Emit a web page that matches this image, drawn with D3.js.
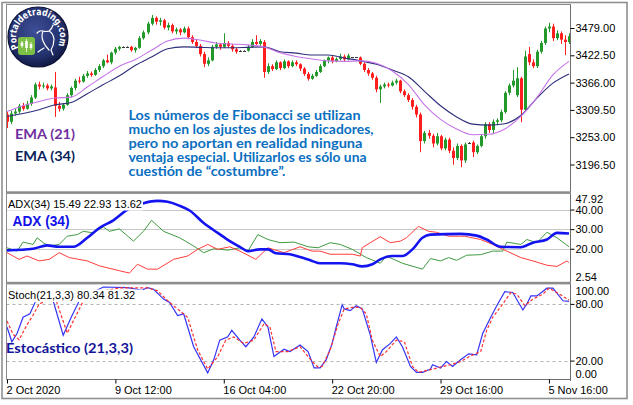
<!DOCTYPE html>
<html><head><meta charset="utf-8">
<script src="https://cdn.jsdelivr.net/npm/d3@7"></script>
<style>html,body{margin:0;padding:0;background:#fff;} svg{display:block}</style>
</head><body>
<svg id="c" width="633" height="405"></svg>
<script>
// ---------- DATA ----------
const openP = [3300,3285,3302,3306,3318,3312,3322,3335,3362,3358,
3360,3354,3356,3318,3312,3320,3340,3355,3370,3368,
3380,3385,3382,3392,3400,3412,3408,3428,3436,3440,
3440,3440,3433,3438,3458,3470,3488,3500,3492,3495,
3480,3485,3472,3476,3470,3478,3460,3450,3442,3425,
3405,3412,3440,3445,3440,3448,3442,3435,3432,3432,
3432,3440,3450,3446,3450,3388,3400,3394,3408,3396,
3410,3400,3408,3404,3395,3384,3374,3380,3388,3400,
3412,3418,3410,3415,3420,3414,3418,3418,3418,3405,
3392,3385,3376,3352,3358,3362,3360,3366,3370,3348,
3340,3330,3316,3300,3245,3262,3256,3240,3255,3230,
3248,3225,3210,3235,3205,3242,3242,3222,3235,3255,
3280,3268,3285,3288,3305,3345,3360,3340,3375,3310,
3425,3408,3400,3430,3448,3478,3482,3458,3468,3455,
3450];
const highP = [3305,3308,3312,3322,3324,3328,3340,3366,3368,3366,
3364,3362,3388,3326,3324,3344,3358,3374,3378,3384,
3390,3389,3396,3404,3415,3424,3430,3440,3442,3441,
3441,3442,3440,3462,3474,3492,3506,3503,3500,3498,
3490,3488,3480,3479,3482,3482,3464,3456,3446,3430,
3418,3444,3450,3448,3468,3452,3446,3438,3433,3433,
3444,3456,3464,3456,3454,3406,3404,3412,3410,3414,
3412,3412,3412,3406,3398,3388,3384,3392,3404,3414,
3420,3421,3418,3426,3424,3426,3419,3419,3420,3408,
3396,3388,3380,3362,3366,3366,3370,3374,3372,3352,
3344,3334,3320,3304,3266,3268,3260,3262,3258,3252,
3252,3232,3240,3238,3242,3243,3246,3238,3260,3284,
3284,3290,3292,3310,3348,3364,3392,3398,3378,3432,
3440,3414,3434,3452,3482,3490,3488,3474,3472,3464,
3468];
const lowP = [3272,3280,3298,3302,3308,3310,3318,3332,3352,3354,
3350,3350,3295,3306,3308,3318,3336,3350,3364,3366,
3376,3378,3380,3388,3396,3406,3404,3424,3432,3439,
3439,3430,3428,3436,3455,3466,3484,3486,3484,3476,
3474,3468,3466,3464,3468,3456,3446,3438,3420,3398,
3400,3410,3436,3434,3438,3438,3430,3426,3431,3431,
3430,3438,3444,3442,3376,3384,3390,3392,3392,3394,
3396,3398,3400,3390,3380,3370,3372,3378,3386,3398,
3406,3406,3408,3412,3410,3412,3417,3417,3402,3388,
3380,3372,3346,3324,3354,3356,3358,3362,3344,3336,
3326,3310,3294,3222,3240,3250,3232,3236,3226,3226,
3220,3196,3206,3191,3200,3241,3212,3218,3232,3250,
3262,3260,3278,3284,3302,3340,3356,3336,3284,3306,
3402,3396,3396,3426,3444,3470,3452,3454,3446,3423,
3446];
const closeP = [3285,3302,3306,3318,3312,3322,3335,3362,3358,3360,
3354,3358,3318,3312,3320,3340,3355,3370,3368,3380,
3385,3382,3392,3400,3412,3408,3428,3436,3440,3440,
3440,3433,3438,3458,3470,3488,3500,3492,3495,3480,
3485,3472,3476,3470,3478,3460,3450,3442,3425,3405,
3412,3440,3445,3440,3448,3442,3435,3430,3432,3432,
3440,3450,3446,3452,3388,3400,3394,3408,3396,3410,
3400,3408,3404,3395,3384,3374,3380,3388,3400,3412,
3418,3410,3415,3420,3414,3422,3418,3418,3405,3392,
3385,3376,3352,3358,3362,3360,3366,3370,3348,3340,
3330,3316,3300,3245,3262,3256,3240,3255,3230,3248,
3225,3210,3235,3205,3238,3242,3222,3235,3255,3280,
3268,3285,3288,3305,3345,3360,3370,3375,3310,3420,
3408,3400,3430,3448,3478,3482,3458,3468,3455,3450,
3462];

const emaIdx = [0,4,8,12,16,20,24,28,32,36,40,44,48,52,56,60,64,68,72,76,80,84,88,92,96,100,104,108,112,116,120,124,128,132,136,140];
const ema21 = [3306,3318,3327,3334,3336,3357,3379,3400,3414,3433,3452,3458,3454,3448,3446,3444,3440,3428,3420,3415,3411,3410,3411,3406,3390,3362,3320,3290,3270,3258,3259,3270,3296,3335,3382,3410];
const ema34 = [3296,3302,3310,3320,3325,3343,3362,3380,3402,3419,3436,3440,3439,3438,3438,3439,3440,3430,3427,3423,3423,3417,3411,3404,3392,3378,3348,3318,3295,3280,3278,3281,3298,3334,3365,3384];

const adxBar = [0,6.5,10,13,16.5,20,23,26.5,30,34,37.5,40,43,45.5,49,52.5,55.5,58,60,63,65,67,70.5,73,76,78,83,86,88.5,91,93,96,98.5,101,103.5,105.5,113,117,119.5,123,128,131,134.5,137,140];
const adxVal = [19.2,20.0,21.7,21.0,21.0,25.6,30.6,34.5,39.9,43.2,44.4,44.0,41.9,39.5,33.1,28.1,23.9,21.0,18.8,19.7,19.7,17.7,17.2,15.8,13.8,12.6,12.6,12.1,11.0,12.1,14.6,16.3,16.3,19.7,25.6,27.2,27.6,26.7,24.7,21.0,20.8,23.1,24.7,28.1,27.8];
const plusBar = [0,2.5,4,6.5,7.5,9,10.5,13,15,17.5,19,21.5,24,25.5,28,31.5,34,36,39,43,46.5,49,51.5,55,58,60,62.5,65,68,71.5,75,77.5,80.5,83,86,89.5,93,94.5,98.5,103.5,105.5,108,110,112,114.5,118,121,123.5,124.5,128,129.5,132,134.5,137,140];
const plusVal = [20.5,18.8,23.4,22.2,25.6,23.1,21.4,22.2,26.4,27.2,28.9,28.1,31.1,28.9,30.1,23.9,28.9,34.5,28.9,25.6,21.4,18.0,20.0,19.3,20.5,18.8,27.2,24.7,23.1,23.4,21.0,20.5,23.1,22.2,19.7,15.5,12.6,16.3,12.6,9.6,15.0,13.8,15.5,14.1,16.7,17.0,18.8,18.8,23.4,22.2,24.7,23.1,28.4,25.6,21.0];
const minusBar = [0,3,5,8,10.5,13,15.5,20,23,28,30.5,32.5,35,37.5,41.5,45,47.5,50,52.5,55.5,58,62,65,69,73,76,78,80.5,83,86,88,88.5,90.5,93,95.5,98,99.5,102.5,105,107,110,114,118,121,124.5,128,131,134.5,137,139.5,140];
const minusVal = [18.0,14.6,16.3,13.8,14.6,18.0,15.5,13.8,11.3,8.8,7.6,12.1,9.6,9.6,14.6,16.3,19.7,22.2,19.7,21.0,18.8,14.6,20.5,18.0,21.0,18.8,18.8,17.2,17.2,17.2,16.3,20.5,23.1,26.1,23.1,23.9,25.6,31.4,28.9,28.4,26.4,26.4,24.7,22.2,18.8,15.5,13.8,11.6,11.0,13.8,12.9];

const stochBar = [0,1.2,2.5,4,5.7,7,7.5,9.5,11.5,14,16,18,20.5,24,30,33.5,35,36.5,39,40.5,42.5,44,46.5,50,51.5,53,55,56,58,59.5,61.5,63.5,65,66.5,69,70.5,73,75,76.5,78,79.5,81,82,83.5,84,85.5,87,88.5,90.5,92,93.5,95.5,97,98.5,100.5,102,103.5,105.5,106,108,109.5,111,113,115,117,118.5,120.5,122,124,126,128.5,129.5,130.5,132,134.5,136,138.5,140];
const stochVal = [55.5,39.9,48.6,65.9,69.5,81.6,87.5,89.5,83.3,46.9,65.9,83.3,90.5,97.9,97.2,94.5,97.2,95.5,85.1,81.6,67.7,69.5,34.7,7.0,20.8,41.7,45.1,52.1,41.7,34.7,45.1,64.2,55.5,24.3,32.0,29.5,36.5,29.5,12.2,12.2,20.8,38.2,55.5,79.2,74.7,72.9,78.1,74.7,46.9,18.0,31.3,38.2,45.1,34.7,13.9,7.6,7.6,11.1,15.6,12.2,19.1,13.9,20.8,27.1,26.0,48.6,65.9,78.1,93.0,92.0,73.6,79.9,88.5,88.5,96.6,96.6,83.3,82.6];
const signalBar = [0,1.5,3,5,6.5,8,12,15,19,22,28,35,37.5,40.5,43.5,45,47.5,50,52.5,54.5,56.5,59,61.5,64,65.5,67,70,73,76,77.5,78.5,80.5,82.5,84,86,88,89.5,91,93,94.5,97,99,101,102.5,105.5,108,110.5,113,115.5,118,119.5,121,123.5,125.5,127,129,131,133.5,135,137,140];
const signalVal = [62,48,42,58,68,80,86.8,49,83,92,97,97,93.8,81.6,71.1,65.9,31.3,11.1,24.3,41.7,45.1,38.2,41.7,59.0,55.5,29.5,29.5,34.7,19.1,13.2,13.9,31.3,59.0,74.7,76.3,76.3,69.5,41.7,24.3,29.5,41.7,39.9,13.9,7.6,10.4,13.2,15.6,19.1,25.0,29.5,52.1,65.9,79.9,92.0,90.3,78.1,85.1,90.3,96.6,92.0,84.0];

const timeLabels = ["2 Oct 2020","9 Oct 12:00","16 Oct 04:00","22 Oct 20:00","29 Oct 16:00","5 Nov 16:00"];
const timeBars = [0,27,54,81,108,135];
const priceTicks = [3479, 3422.5, 3366, 3309.5, 3253, 3196.5];
const adxTicks = [40, 30, 20];
const adxRange = [2.54, 47.92];
const stochTicks = [80, 20];
const stochRange = [0, 100];
const adxTitle = "ADX(34) 15.49 22.93 13.62";
const stochTitle = "Stoch(21,3,3) 80.34 81.32";
const noteLines = ["Los números de Fibonacci se utilizan","mucho en los ajustes de los indicadores,","pero no aportan en realidad ninguna","ventaja especial. Utilizarlos es sólo una","cuestión de “costumbre”."];

// ---------- LAYOUT ----------
const L = 6.5, R = 570.5;
const main = {t:5, b:191.5};
const adxP = {t:194, b:282};
const stP = {t:284.5, b:379.5};
const svg = d3.select('#c');
svg.append('rect').attr('width',633).attr('height',405).attr('fill','#fff');

const x = d3.scaleLinear().domain([0,140]).range([7,569]);
const yP = d3.scaleLinear().domain([3139.6,3526.6]).range([192,5]);
const yA = d3.scaleLinear().domain(adxRange).range([283,194]);
const yS = d3.scaleLinear().domain(stochRange).range([379.5,285]);

const defs = svg.append('defs');
function clip(id, t, b){
  defs.append('clipPath').attr('id',id).append('rect').attr('x',L).attr('y',t).attr('width',R-L).attr('height',b-t);
}
clip('cm', main.t, main.b); clip('ca', adxP.t, adxP.b); clip('cs', stP.t, stP.b);

// outer frame
svg.append('rect').attr('x',2).attr('y',2.5).attr('width',625).attr('height',396).attr('fill','none').attr('stroke','#8f8f8f').attr('stroke-width',1.6);

// ---------- MAIN PANEL ----------
const gm = svg.append('g').attr('clip-path','url(#cm)');
const idx = d3.range(closeP.length);
const bull = '#22992a', bear = '#ff1e1e', dojiC = '#3a3a3a';
const cg = gm.append('g');
cg.selectAll('g.c').data(idx).join('g').attr('class','c').each(function(i){
  const g = d3.select(this);
  const cx = Math.round(x(i));
  const o = openP[i], c = closeP[i];
  const col = c > o ? bull : (c < o ? bear : dojiC);
  g.append('rect').attr('x',cx).attr('y',yP(highP[i])).attr('width',1).attr('height',Math.max(1,yP(lowP[i])-yP(highP[i]))).attr('fill',col);
  if (o === c) {
    g.append('rect').attr('x',cx-1).attr('y',Math.round(yP(o))).attr('width',3).attr('height',1).attr('fill',col);
  } else {
    const top = yP(Math.max(o,c)), bot = yP(Math.min(o,c));
    g.append('rect').attr('x',cx-1).attr('y',top).attr('width',3).attr('height',Math.max(1,bot-top)).attr('fill',col);
  }
});
const lineE = d3.line().x((d,k)=>x(emaIdx[k])).curve(d3.curveMonotoneX);
gm.append('path').attr('d',lineE.y(d=>yP(d))(ema34)).attr('fill','none').attr('stroke','#2e2e7c').attr('stroke-width',1.1);
gm.append('path').attr('d',lineE.y(d=>yP(d))(ema21)).attr('fill','none').attr('stroke','#c674e8').attr('stroke-width',1.1);

// ---------- ADX PANEL ----------
const ga = svg.append('g').attr('clip-path','url(#ca)');
ga.selectAll('line.g').data(adxTicks).join('line').attr('x1',L).attr('x2',R)
  .attr('y1',d=>Math.round(yA(d))+0.5).attr('y2',d=>Math.round(yA(d))+0.5).attr('stroke','#c8c8c8').attr('stroke-width',1);
function pl(bars, vals, ys, curve){
  return d3.line().x((d,k)=>x(bars[k])).y(d=>ys(d)).curve(curve||d3.curveLinear)(vals);
}
ga.append('path').attr('d',pl(plusBar,plusVal,yA)).attr('fill','none').attr('stroke','#3f9a3f').attr('stroke-width',1);
ga.append('path').attr('d',pl(minusBar,minusVal,yA)).attr('fill','none').attr('stroke','#ff3c3c').attr('stroke-width',1);
ga.append('path').attr('d',pl(adxBar,adxVal,yA,d3.curveMonotoneX)).attr('fill','none').attr('stroke','#1414f0').attr('stroke-width',2.6);

// ---------- STOCH PANEL ----------
const gs = svg.append('g').attr('clip-path','url(#cs)');
gs.selectAll('line.g').data(stochTicks).join('line').attr('x1',L).attr('x2',R)
  .attr('y1',d=>Math.round(yS(d))+0.5).attr('y2',d=>Math.round(yS(d))+0.5).attr('stroke','#b4b4b4').attr('stroke-width',1).attr('stroke-dasharray','3,3');
gs.append('path').attr('d',pl(stochBar,stochVal,yS)).attr('fill','none').attr('stroke','#3434f4').attr('stroke-width',1.2);
gs.append('path').attr('d',pl(signalBar,signalVal,yS)).attr('fill','none').attr('stroke','#ff3030').attr('stroke-width',1.2).attr('stroke-dasharray','3,2');

// ---------- FRAMES ----------
const fr = svg.append('g');
fr.append('line').attr('x1',L).attr('x2',L).attr('y1',4).attr('y2',379.5).attr('stroke','#8a8a8a');
fr.append('line').attr('x1',R).attr('x2',R).attr('y1',4).attr('y2',381).attr('stroke','#6e6e6e');
fr.append('line').attr('x1',L).attr('x2',R).attr('y1',4.5).attr('y2',4.5).attr('stroke','#8a8a8a');
fr.append('rect').attr('x',L-0.5).attr('y',191.3).attr('width',R-L+1).attr('height',2.6).attr('fill','#8c8c8c');
fr.append('rect').attr('x',L-0.5).attr('y',281.8).attr('width',R-L+1).attr('height',2.6).attr('fill','#8c8c8c');
fr.append('line').attr('x1',L).attr('x2',R).attr('y1',379.5).attr('y2',379.5).attr('stroke','#6e6e6e');

// ---------- AXES ----------
const axFont = 'Liberation Sans, Arial, sans-serif';
const yAxisMain = d3.axisRight(yP).tickValues(priceTicks).tickSize(4).tickPadding(1).tickFormat(d3.format('.2f'));
const gyM = svg.append('g').attr('transform',`translate(${R},0)`).call(yAxisMain);
const yAxisA = d3.axisRight(yA).tickValues(adxTicks).tickSize(4).tickPadding(1).tickFormat(d3.format('.2f'));
const gyA = svg.append('g').attr('transform',`translate(${R},0)`).call(yAxisA);
const yAxisS = d3.axisRight(yS).tickValues(stochTicks).tickSize(4).tickPadding(1).tickFormat(d3.format('.2f'));
const gyS = svg.append('g').attr('transform',`translate(${R},0)`).call(yAxisS);
[gyM,gyA,gyS].forEach(g=>{
  g.select('.domain').remove();
  g.selectAll('line').attr('stroke','#000');
  g.selectAll('text').attr('font-family',axFont).attr('font-size',11).attr('fill','#000');
});
// edge labels drawn inside the panels
const edge = [[adxRange[1], yA(adxRange[1])+5.5],[adxRange[0], yA(adxRange[0])-6],[stochRange[1], yS(stochRange[1])+6],[stochRange[0], yS(stochRange[0])-5.5]];
svg.selectAll('text.edge').data(edge).join('text').attr('class','edge')
  .attr('x',R+5).attr('y',d=>d[1]).attr('dy','0.35em').attr('font-family',axFont).attr('font-size',11).attr('fill','#000')
  .text(d=>d3.format('.2f')(d[0]));

const xAxis = d3.axisBottom(x).tickValues(timeBars).tickSize(4).tickFormat((d,k)=>timeLabels[k]);
const gx = svg.append('g').attr('transform','translate(0,379.5)').call(xAxis);
gx.select('.domain').remove();
gx.selectAll('line').attr('stroke','#000');
gx.selectAll('text').attr('font-family',axFont).attr('font-size',11).attr('fill','#000').attr('text-anchor','start').attr('y',7).attr('dx',-1);

// ---------- INDICATOR TITLES ----------
function title(txt, xx, yy){
  svg.append('rect').attr('x',xx-1).attr('y',yy-9.5).attr('width',136).attr('height',12.5).attr('fill','#fff');
  svg.append('text').attr('x',xx).attr('y',yy).attr('font-family',axFont).attr('font-size',11).attr('fill','#000').text(txt);
}
title(adxTitle, 8, 207.5);
title(stochTitle, 8, 299);

// ---------- ANNOTATIONS ----------
const annFont = 'Lato, "Open Sans", sans-serif';
svg.append('text').attr('x',12.5).attr('y',226).attr('font-family',axFont).attr('font-weight','bold').attr('font-size',14.5).attr('fill','#1212e8').attr('textLength',57).attr('lengthAdjust','spacingAndGlyphs').text('ADX (34)');
svg.append('text').attr('x',6).attr('y',353).attr('font-family',annFont).attr('font-weight','bold').attr('font-size',14).attr('fill','#14149a').attr('textLength',127).attr('lengthAdjust','spacingAndGlyphs').text('Estocástico (21,3,3)');
svg.append('text').attr('x',15).attr('y',139).attr('font-family',annFont).attr('font-weight','bold').attr('font-size',14).attr('fill','#7030a0').attr('textLength',60).attr('lengthAdjust','spacingAndGlyphs').text('EMA (21)');
svg.append('text').attr('x',15).attr('y',161).attr('font-family',annFont).attr('font-weight','bold').attr('font-size',14).attr('fill','#0a1f5c').attr('textLength',60).attr('lengthAdjust','spacingAndGlyphs').text('EMA (34)');
const noteW = [232,245,234,238,157];
const noteY = [120,134,148,162,175.5];
svg.selectAll('text.note').data(noteLines).join('text').attr('class','note')
  .attr('x',128.5).attr('y',(d,k)=>noteY[k]).attr('font-family',annFont).attr('font-weight','bold').attr('font-size',13.6)
  .attr('fill','#0a6fc0').attr('textLength',(d,k)=>noteW[k]).attr('lengthAdjust','spacingAndGlyphs').text(d=>d);

// ---------- LOGO ----------
const lg = svg.append('g');
const grad = defs.append('radialGradient').attr('id','lgg').attr('cx','45%').attr('cy','40%').attr('r','60%');
grad.append('stop').attr('offset','0%').attr('stop-color','#3d4f97');
grad.append('stop').attr('offset','70%').attr('stop-color','#24326f');
grad.append('stop').attr('offset','100%').attr('stop-color','#121a45');
lg.append('circle').attr('cx',38).attr('cy',37).attr('r',30).attr('fill','url(#lgg)').attr('stroke','#0d1236').attr('stroke-width',1.2);
defs.append('path').attr('id','arc').attr('d','M18.95,48 A22,22 0 1,1 57.05,48');
lg.append('text').attr('font-family','DejaVu Sans, sans-serif').attr('font-weight','bold').attr('font-size',9.5).attr('fill','#fff')
  .append('textPath').attr('href','#arc').attr('textLength',89).attr('lengthAdjust','spacingAndGlyphs').text('Portaldetrading.com');
lg.append('rect').attr('x',18).attr('y',37).attr('width',17).attr('height',18).attr('rx',3).attr('fill','#7cbf45');
[[22,41,48,42.5,46],[26.5,39,52,41,48],[31,42,50,44,48]].forEach(c=>{
  lg.append('line').attr('x1',c[0]).attr('x2',c[0]).attr('y1',c[1]).attr('y2',c[2]).attr('stroke','#fff').attr('stroke-width',0.8);
  lg.append('rect').attr('x',c[0]-1.3).attr('y',c[3]).attr('width',2.6).attr('height',c[4]-c[3]).attr('fill','#fff');
});
lg.append('path').attr('d','M37,33 q3,-3 6,-2 q3,1 6,0 q3,-2 4,-6 M49,31 q4,2 5,8 q0,6 -3,11 M43,31 q-2,5 0,10 q2,5 6,9 M38,52 q4,-3 6,-4 M51,50 l2,5')
  .attr('fill','none').attr('stroke','#fff').attr('stroke-width',1.2).attr('stroke-linecap','round');
</script>
</body></html>
